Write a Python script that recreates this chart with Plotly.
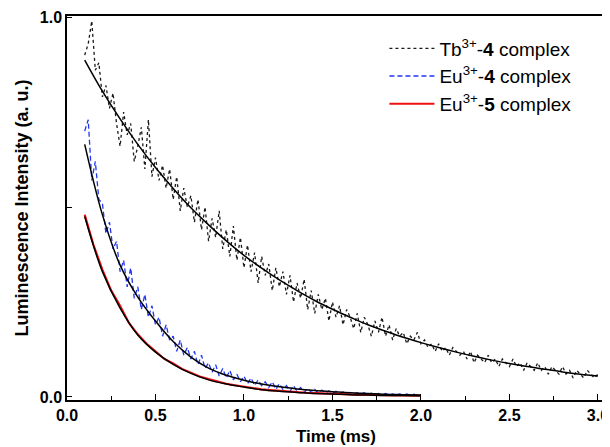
import plotly.graph_objects as go

# время (мс) и интенсивность
tb_x = [round(0.10 + 0.02 * i, 2) for i in range(146)]
tb_y = [0.90, 0.93, 0.99, 0.86, 0.88, 0.79, 0.82, 0.76, 0.80, 0.72,
        0.66, 0.75, 0.69, 0.72, 0.62, 0.66, 0.71, 0.60, 0.73, 0.58,
        0.63, 0.57, 0.61, 0.55, 0.60, 0.52, 0.58, 0.49, 0.55, 0.50,
        0.53, 0.46, 0.52, 0.44, 0.50, 0.41, 0.47, 0.42, 0.49, 0.39,
        0.44, 0.37, 0.45, 0.36, 0.42, 0.34, 0.40, 0.33, 0.38, 0.30,
        0.37, 0.32, 0.35, 0.28, 0.34, 0.29, 0.33, 0.27, 0.32, 0.25,
        0.30, 0.26, 0.31, 0.23, 0.28, 0.22, 0.27, 0.23, 0.26, 0.20,
        0.25, 0.21, 0.24, 0.19, 0.23, 0.21, 0.18, 0.22, 0.17, 0.21,
        0.19, 0.16, 0.20, 0.17, 0.21, 0.16, 0.19, 0.15, 0.18, 0.16,
        0.17, 0.14, 0.16, 0.15, 0.17, 0.14, 0.15, 0.13, 0.14, 0.12,
        0.14, 0.12, 0.13, 0.11, 0.13, 0.12, 0.11, 0.12, 0.10, 0.12,
        0.09, 0.11, 0.10, 0.09, 0.11, 0.09, 0.10, 0.08, 0.10, 0.09,
        0.08, 0.10, 0.08, 0.09, 0.07, 0.09, 0.08, 0.07, 0.09, 0.07,
        0.08, 0.06, 0.08, 0.07, 0.06, 0.08, 0.06, 0.07, 0.05, 0.07,
        0.06, 0.05, 0.07, 0.06, 0.05, 0.06]

eu4_x = [round(0.10 + 0.02 * i, 2) for i in range(96)]
eu4_y = [0.70, 0.73, 0.57, 0.62, 0.52, 0.51, 0.43, 0.46, 0.39, 0.41,
         0.33, 0.36, 0.29, 0.34, 0.26, 0.29, 0.23, 0.27, 0.21, 0.24,
         0.19, 0.21, 0.16, 0.19, 0.15, 0.16, 0.12, 0.15, 0.11, 0.13,
         0.10, 0.12, 0.085, 0.11, 0.075, 0.09, 0.065, 0.085, 0.055, 0.075,
         0.05, 0.07, 0.045, 0.06, 0.04, 0.055, 0.035, 0.05, 0.03, 0.045,
         0.03, 0.04, 0.025, 0.04, 0.02, 0.035, 0.02, 0.03, 0.015, 0.03,
         0.015, 0.025, 0.012, 0.022, 0.012, 0.02, 0.01, 0.018, 0.01, 0.016,
         0.009, 0.015, 0.008, 0.013, 0.008, 0.012, 0.007, 0.011, 0.007, 0.011,
         0.006, 0.01, 0.006, 0.009, 0.005, 0.009, 0.005, 0.008, 0.005, 0.008,
         0.004, 0.008, 0.004, 0.007, 0.004, 0.006]

eu5_x = [round(0.10 + 0.05 * i, 2) for i in range(39)]
eu5_y = [0.48, 0.40, 0.335, 0.28, 0.24, 0.195, 0.165, 0.14, 0.12, 0.10,
         0.088, 0.074, 0.064, 0.054, 0.047, 0.040, 0.035, 0.031, 0.027, 0.023,
         0.020, 0.018, 0.016, 0.014, 0.013, 0.011, 0.010, 0.009, 0.008, 0.008,
         0.007, 0.006, 0.006, 0.005, 0.005, 0.004, 0.004, 0.004, 0.003]

# аппроксимирующие кривые
tb_fit_x = [round(0.1 * i, 1) for i in range(1, 31)]
tb_fit_y = [0.887, 0.805, 0.732, 0.665, 0.604, 0.549, 0.498, 0.453, 0.411, 0.373,
            0.339, 0.308, 0.280, 0.254, 0.231, 0.210, 0.190, 0.173, 0.157, 0.143,
            0.130, 0.118, 0.107, 0.097, 0.088, 0.080, 0.073, 0.066, 0.060, 0.055]

eu_fit_x = [round(0.1 * i, 1) for i in range(1, 21)]
eu4_fit_y = [0.665, 0.48, 0.347, 0.263, 0.20, 0.146, 0.105, 0.076, 0.057, 0.044,
             0.034, 0.027, 0.021, 0.017, 0.014, 0.011, 0.009, 0.007, 0.006, 0.005]
eu5_fit_y = [0.475, 0.33, 0.234, 0.163, 0.118, 0.086, 0.062, 0.045, 0.034, 0.026,
             0.019, 0.015, 0.012, 0.009, 0.008, 0.006, 0.005, 0.004, 0.004, 0.003]

x_ticks = [0, 0.5, 1.0, 1.5, 2.0, 2.5, 3.0]
x_labels = ['0.0', '0.5', '1.0', '1.5', '2.0', '2.5', '3.0']
y_ticks = [0, 0.5, 1.0]
y_labels = ['0.0', '', '1.0']


def bold(t):
    return '<b>%s</b>' % t if t else ' '


fig = go.Figure()

fig.add_trace(go.Scatter(x=tb_x, y=tb_y, mode='lines', name='Tb<sup>3+</sup>-<b>4</b> complex',
                         legendgroup='a', line=dict(color='#1a1a1a', width=1.3, dash='dot')))
fig.add_trace(go.Scatter(x=eu4_x, y=eu4_y, mode='lines', name='Eu<sup>3+</sup>-<b>4</b> complex',
                         legendgroup='b', line=dict(color='#1f35f0', width=1.3, dash='5px,3px')))
fig.add_trace(go.Scatter(x=eu5_x, y=eu5_y, mode='lines', name='Eu<sup>3+</sup>-<b>5</b> complex',
                         legendgroup='c', line=dict(color='#ee1111', width=2.1)))

for fx, fy in [(tb_fit_x, tb_fit_y), (eu_fit_x, eu4_fit_y), (eu_fit_x, eu5_fit_y)]:
    fig.add_trace(go.Scatter(x=fx, y=fy, mode='lines', showlegend=False,
                             line=dict(color='black', width=1.5, shape='spline')))

axis_font = dict(family='Liberation Sans, Arial', size=16, color='black')
title_font = dict(family='Liberation Sans, Arial', size=17, color='black')

# страница сдвигает фигуру на 8px (отступ body), поэтому размеры чуть меньше
fig.update_layout(
    width=602, height=439,
    margin=dict(l=59, r=5, t=8, b=47),
    plot_bgcolor='white', paper_bgcolor='white',
    font=dict(family='Liberation Sans, Arial', color='black'),
    legend=dict(x=0.59, y=0.965, xanchor='left', yanchor='top', bgcolor='rgba(0,0,0,0)',
                font=dict(size=19), tracegroupgap=0, itemwidth=45),
    xaxis=dict(range=[0, 3.04], tickvals=x_ticks, ticktext=[bold(t) for t in x_labels],
               tickangle=0, automargin=False,
               ticks='inside', ticklen=6, tickwidth=1.2, tickcolor='black',
               minor=dict(tickvals=[0.25, 0.75, 1.25, 1.75, 2.25, 2.75], ticks='inside', ticklen=4,
                          tickwidth=1.2, tickcolor='black'),
               showline=True, linecolor='black', linewidth=1.5, mirror=True,
               showgrid=False, zeroline=False, tickfont=axis_font),
    yaxis=dict(range=[-0.008, 1.003], tickvals=y_ticks, ticktext=[bold(t) for t in y_labels],
               automargin=False,
               ticks='inside', ticklen=5, tickwidth=1.2, tickcolor='black',
               showline=True, linecolor='black', linewidth=1.5, mirror=True,
               showgrid=False, zeroline=False, tickfont=axis_font,
               title=dict(text='<b>Luminescence Intensity (a. u.)</b>',
                          font=dict(family='Liberation Sans, Arial', size=18, color='black'), standoff=6)),
)

# подпись оси X
fig.add_annotation(text='<b>Time (ms)</b>', xref='paper', yref='paper', x=0.5, y=-0.094,
                   xanchor='center', yanchor='middle', showarrow=False, font=title_font)

fig.write_html("out.html")
